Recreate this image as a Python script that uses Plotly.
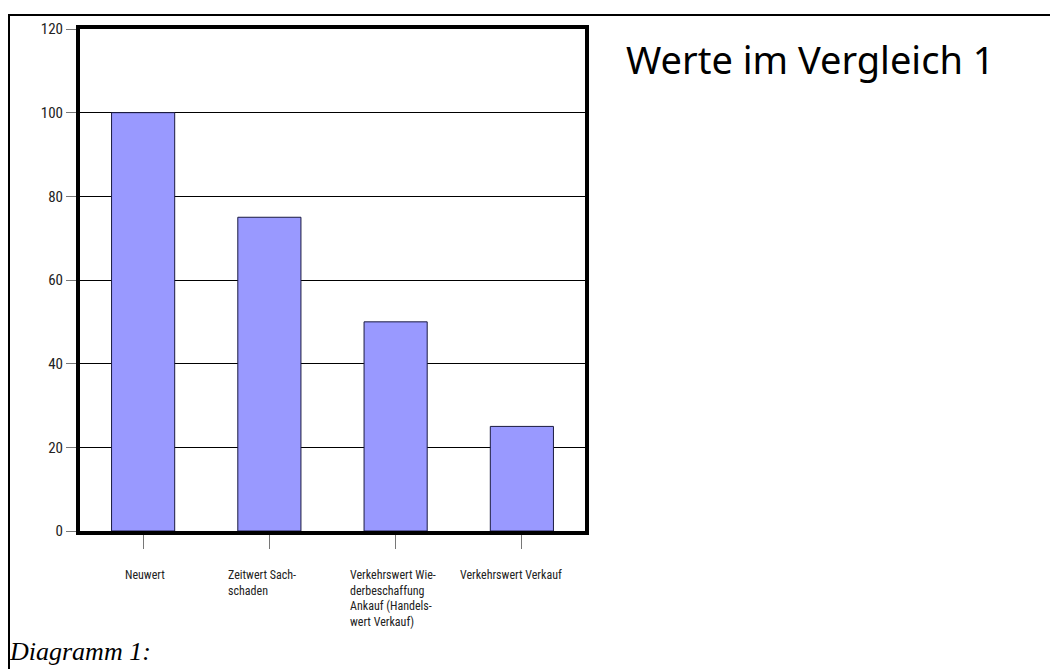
import plotly.graph_objects as go

categories = ["Neuwert", "Zeitwert Sachschaden", "Verkehrswert Wiederbeschaffung", "Verkehrswert Verkauf"]
label_lines = [
    ["Neuwert"],
    ["Zeitwert Sach-", "schaden"],
    ["Verkehrswert Wie-", "derbeschaffung", "Ankauf (Handels-", "wert Verkauf)"],
    ["Verkehrswert Verkauf"],
]
values = [100, 75, 50, 25]
y_ticks = [0, 20, 40, 60, 80, 100, 120]

# page body has an 8px margin; work in page pixels and convert
M = 8
W, H = 1058 - M, 669 - M
L, T, R, B = 80, 27, 585, 531          # plot area in page pixels
pw, ph = R - L, B - T

def px(x):
    return (x - L) / pw

def py(y):
    return (B - y) / ph

narrow = "Liberation Sans Narrow, Arial Narrow, Roboto Condensed, sans-serif"

fig = go.Figure()
fig.add_trace(go.Bar(
    x=categories, y=values, width=0.5,
    marker=dict(color="#9999FF", line=dict(color="#1a1a40", width=1)),
    hoverinfo="skip",
))

fig.update_layout(
    width=W, height=H,
    margin=dict(l=L - M, r=(W + M) - R, t=T - M, b=(H + M) - B),
    paper_bgcolor="white", plot_bgcolor="white",
    showlegend=False,
)
fig.update_xaxes(
    type="category", range=[-0.5, 3.5],
    showgrid=False, showticklabels=False,
    ticks="outside", ticklen=14, tickcolor="#777777", tickwidth=1,
    showline=True, linecolor="black", linewidth=4, mirror=True,
    zeroline=False,
)
fig.update_yaxes(
    range=[0, 120], tickvals=y_ticks,
    showgrid=True, gridcolor="black", gridwidth=1,
    ticks="outside", ticklen=10, tickcolor="#777777", tickwidth=1,
    tickfont=dict(family=narrow, size=15, color="#222222"),
    showline=True, linecolor="black", linewidth=4, mirror=True,
    zeroline=False,
)

# category labels: left-aligned blocks under each bar
label_shift = [-20, -43, -48, -64]
for cat, lines, sh in zip(categories, label_lines, label_shift):
    fig.add_annotation(
        x=cat, xref="x", y=py(566), yref="paper",
        text="<br>".join(lines), showarrow=False,
        xanchor="left", yanchor="top", align="left",
        xshift=sh,
        font=dict(family=narrow, size=12, color="#222222"),
    )

fig.add_annotation(
    x=px(624), xref="paper", y=py(57), yref="paper",
    text="Werte im Vergleich 1", showarrow=False,
    xanchor="left", yanchor="middle",
    font=dict(family="Noto Sans, Open Sans, sans-serif", size=38, color="black"),
)
fig.add_annotation(
    x=px(7), xref="paper", y=py(652), yref="paper",
    text="<i>Diagramm 1:</i>", showarrow=False,
    xanchor="left", yanchor="middle",
    font=dict(family="Liberation Serif, Times New Roman, serif", size=26, color="black"),
)

# outer frame (top and left lines)
fig.add_shape(type="line", xref="paper", yref="paper",
              x0=px(8), x1=px(1062), y0=py(13), y1=py(13),
              line=dict(color="black", width=2))
fig.add_shape(type="line", xref="paper", yref="paper",
              x0=px(9), x1=px(9), y0=py(12), y1=py(675),
              line=dict(color="black", width=2))

fig.write_html("out.html")
